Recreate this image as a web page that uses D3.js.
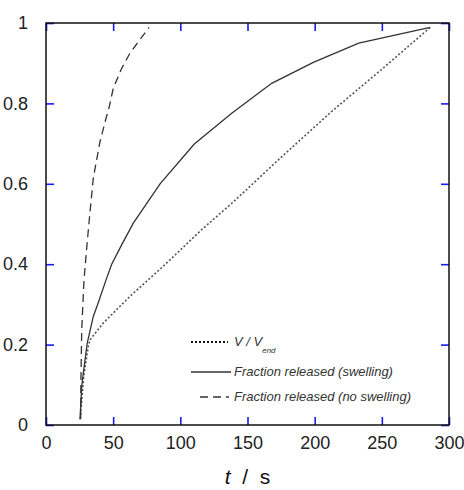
<!DOCTYPE html>
<html>
<head>
<meta charset="utf-8">
<script src="https://cdn.jsdelivr.net/npm/d3@7"></script>
<style>
  html, body { margin: 0; padding: 0; background: #fff; }
  svg { display: block; font-family: "Liberation Sans", Arial, sans-serif; }
</style>
</head>
<body>
<div id="chart"></div>
<script>
// values
const xTicks = [0, 50, 100, 150, 200, 250, 300];
const yTicks = [0, 0.2, 0.4, 0.6, 0.8, 1];

const volT = [25.5, 28, 31.5, 32.8, 42.7, 62.5, 87.3, 115.9, 138.5, 175.7, 213, 250, 286];
const volV = [0.015, 0.12, 0.196, 0.212, 0.254, 0.32, 0.395, 0.486, 0.552, 0.668, 0.781, 0.885, 0.989];

const swellT = [25.3, 26.6, 27.8, 30.7, 35.2, 38.9, 44.7, 48.9, 56.3, 65, 84.9, 110.4, 138.5, 168, 199, 232.8, 286];
const swellV = [0.014, 0.096, 0.13, 0.204, 0.27, 0.304, 0.361, 0.4, 0.448, 0.502, 0.6, 0.699, 0.776, 0.85, 0.902, 0.95, 0.989];

const noSwellT = [25.8, 26, 26.6, 28.3, 30.5, 32.2, 35.2, 40.2, 43.9, 47.1, 50.1, 56.3, 62.5, 76.7];
const noSwellV = [0.015, 0.113, 0.237, 0.361, 0.448, 0.51, 0.614, 0.705, 0.753, 0.792, 0.838, 0.887, 0.925, 0.989];

const legendLabels = ["V / V", "Fraction released (swelling)", "Fraction released (no swelling)"];

(function () {
  const width = 464, height = 490;
  const margin = { left: 46, right: 15, top: 23, bottom: 65 };
  const TICK = "#1a1aff";
  const LINE = "#333";

  const svg = d3.select("#chart").append("svg")
    .attr("width", width).attr("height", height);

  const x = d3.scaleLinear().domain([0, 300]).range([margin.left, width - margin.right]);
  const y = d3.scaleLinear().domain([0, 1]).range([height - margin.bottom, margin.top]);

  const zip = (ts, vs) => ts.map((t, i) => [t, vs[i]]);
  const line = d3.line().x(d => x(d[0])).y(d => y(d[1]));

  const series = [
    { data: zip(volT, volV), dash: "2,2", width: 1.6, color: "#555" },
    { data: zip(swellT, swellV), dash: null, width: 1.3, color: LINE },
    { data: zip(noSwellT, noSwellV), dash: "8,5", width: 1.3, color: LINE },
  ];

  series.forEach(s => {
    svg.append("path")
      .datum(s.data)
      .attr("d", line)
      .attr("fill", "none")
      .attr("stroke", s.color)
      .attr("stroke-width", s.width)
      .attr("stroke-dasharray", s.dash);
  });

  // --- axes: blue inward ticks on all four sides ---
  const styleAxis = (g) => {
    g.select(".domain").remove();
    g.selectAll(".tick line").attr("stroke", TICK).attr("stroke-width", 1.6);
    g.selectAll(".tick text").attr("fill", "#222").attr("font-size", 18);
  };

  svg.append("g")
    .attr("transform", `translate(0,${y(0)})`)
    .call(d3.axisBottom(x).tickValues(xTicks).tickSize(-8).tickPadding(11).tickFormat(d3.format("d")))
    .call(styleAxis);

  svg.append("g")
    .attr("transform", `translate(0,${y(1)})`)
    .call(d3.axisTop(x).tickValues(xTicks).tickSize(-8).tickFormat(""))
    .call(styleAxis);

  svg.append("g")
    .attr("transform", `translate(${x(0)},0)`)
    .call(d3.axisLeft(y).tickValues(yTicks).tickSize(-8).tickPadding(18).tickFormat(d => d === 0 || d === 1 ? d : d3.format(".1f")(d)))
    .call(styleAxis);

  svg.append("g")
    .attr("transform", `translate(${x(300)},0)`)
    .call(d3.axisRight(y).tickValues(yTicks).tickSize(-8).tickFormat(""))
    .call(styleAxis);

  // frame
  svg.append("rect")
    .attr("x", x(0)).attr("y", y(1))
    .attr("width", x(300) - x(0)).attr("height", y(0) - y(1))
    .attr("fill", "none").attr("stroke", "#111").attr("stroke-width", 1.5);

  // x axis title
  const title = svg.append("text")
    .attr("x", (x(0) + x(300)) / 2).attr("y", 484)
    .attr("text-anchor", "middle")
    .attr("font-size", 21)
    .attr("fill", "#111");
  title.append("tspan").attr("font-style", "italic").text("t");
  title.append("tspan").attr("xml:space", "preserve").text("  /  s");

  // --- legend ---
  const legend = svg.append("g").attr("font-size", 13).attr("font-style", "italic");
  const rows = [
    { y: 342, x1: 191, x2: 228, s: series[0] },
    { y: 372, x1: 191, x2: 231, s: series[1] },
    { y: 397, x1: 200, x2: 229, s: series[2] },
  ];
  rows.forEach((r, i) => {
    legend.append("line")
      .attr("x1", r.x1).attr("x2", r.x2).attr("y1", r.y).attr("y2", r.y)
      .attr("stroke", i === 0 ? "#111" : r.s.color)
      .attr("stroke-width", i === 0 ? 2 : r.s.width)
      .attr("stroke-dasharray", r.s.dash);
    const t = legend.append("text").attr("x", 234).attr("y", r.y + 4)
      .attr("fill", "#333").text(legendLabels[i]);
    if (i === 0) {
      t.append("tspan").attr("font-size", 8).attr("fill", "#333").attr("dy", 7).text("end");
    }
  });
})();
</script>
</body>
</html>
